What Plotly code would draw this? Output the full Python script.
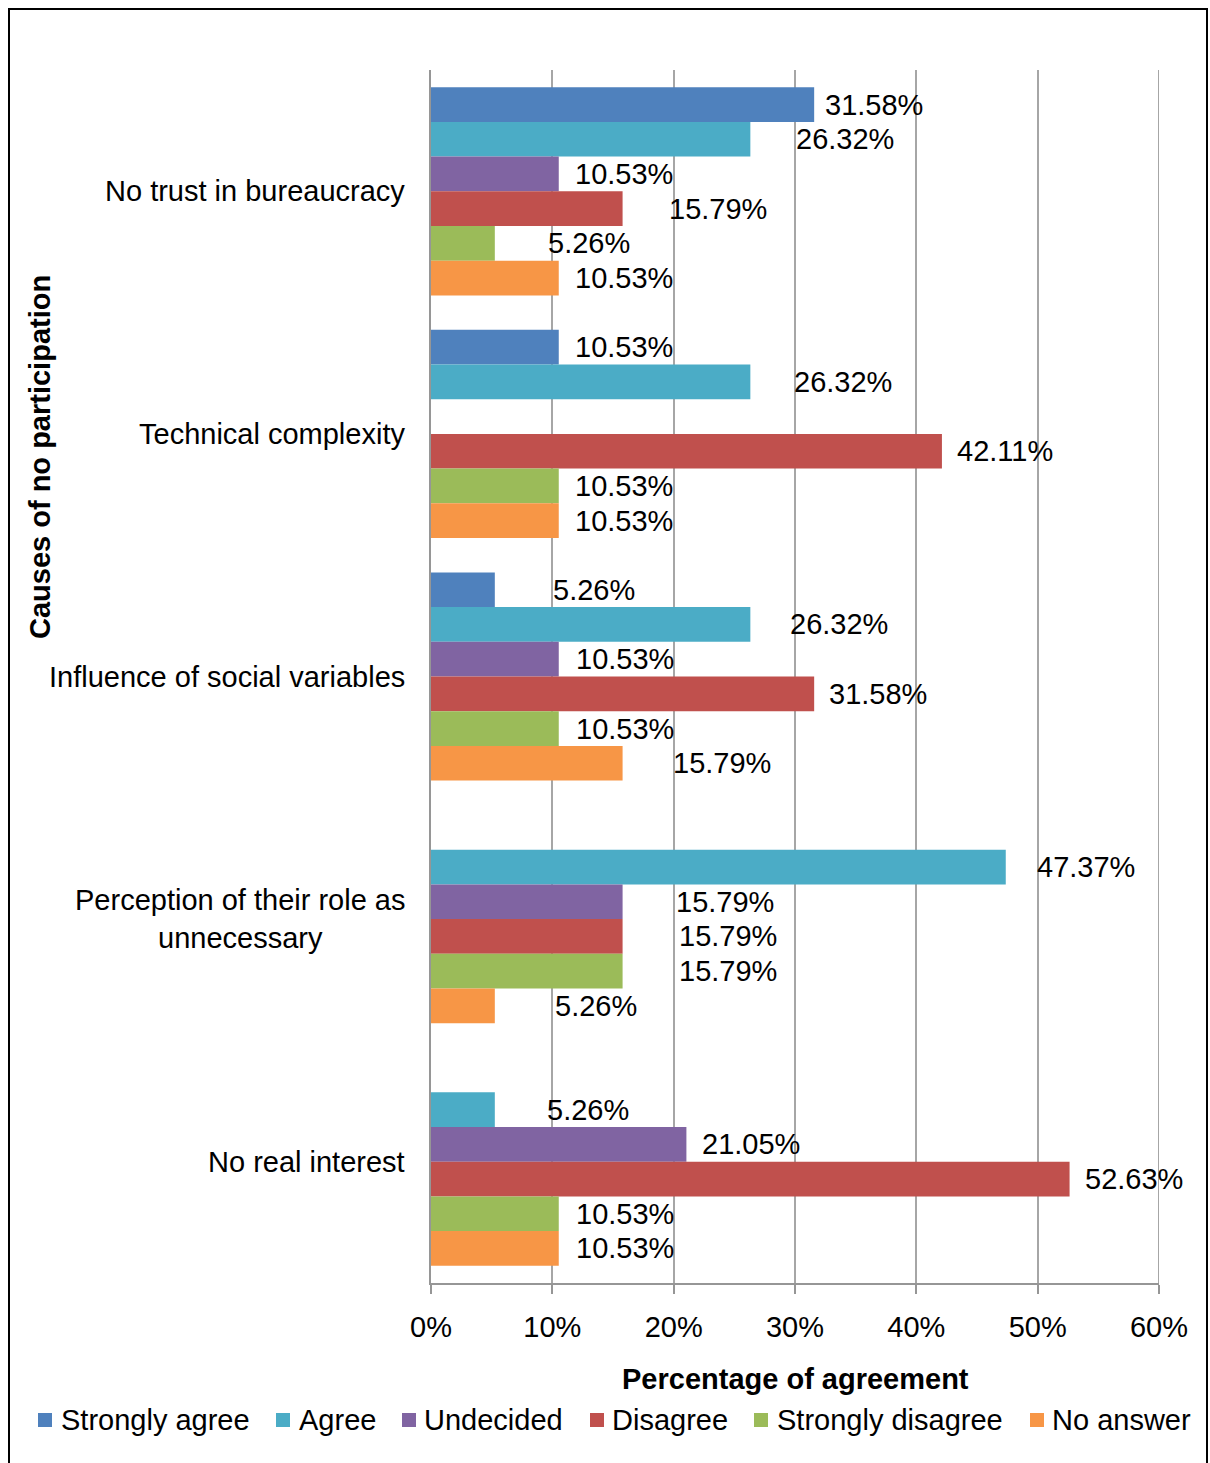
import plotly.graph_objects as go

# Causes of no participation (top to bottom)
causes = [
    "No trust in bureaucracy",
    "Technical complexity",
    "Influence of social variables",
    "Perception of their role as<br>unnecessary",
    "No real interest",
]

series_names = ["Strongly agree", "Agree", "Undecided", "Disagree",
                "Strongly disagree", "No answer"]

# Percentage of agreement per cause (None = no responses)
strongly_agree = [31.58, 10.53, 5.26, None, None]
agree = [26.32, 26.32, 26.32, 47.37, 5.26]
undecided = [10.53, None, 10.53, 15.79, 21.05]
disagree = [15.79, 42.11, 31.58, 15.79, 52.63]
strongly_disagree = [5.26, 10.53, 10.53, 15.79, 10.53]
no_answer = [10.53, 10.53, 15.79, 5.26, 10.53]

series_values = [strongly_agree, agree, undecided, disagree,
                 strongly_disagree, no_answer]

tick_values = [0, 10, 20, 30, 40, 50, 60]
tick_labels = ["0%", "10%", "20%", "30%", "40%", "50%", "60%"]

colors = ["#4F81BD", "#4BACC6", "#8064A2", "#C0504D", "#9BBB59", "#F79646"]

# horizontal pixel gap between each bar end and its value label
label_gap = [
    [11, 16, 58, None, None],
    [46, 44, 40, 31, 52],
    [16, None, 17, 53, 16],
    [46, 15, 15, 56, 15],
    [53, 16, 17, 56, 17],
    [16, 16, 50, 60, 17],
]

# legend layout: left pixel of each key square, and of each label
legend_key_px = [38, 276, 402, 590, 754, 1030]
legend_text_px = [60, 298, 423, 611, 776, 1051]
legend_mid_px = 1420
key_size = 14

FONT = "Liberation Sans, Arial, sans-serif"
FS = 29

n_series = len(series_names)
group_fill = 0.858
bar_w = group_fill / n_series

W, H = 1210, 1463
L, R, T, B = 431, 51, 70, 180
pw, ph = W - L - R, H - T - B


def px_to_paper_x(px):
    return (px - L) / pw


def px_to_paper_y(py):
    return 1 - (py - T) / ph


fig = go.Figure()
annotations = []
shapes = []

for i, (name, vals, col) in enumerate(zip(series_names, series_values, colors)):
    offset = (i - (n_series - 1) / 2) * bar_w
    ys = [c + offset for c in range(len(causes))]
    fig.add_trace(go.Bar(
        name=name, orientation="h", x=vals, y=ys, width=bar_w,
        marker=dict(color=col, line=dict(width=0)), showlegend=False,
    ))
    for v, y, g in zip(vals, ys, label_gap[i]):
        if v is None:
            continue
        annotations.append(dict(
            x=v, y=y, xref="x", yref="y", text=f"{v:.2f}%",
            showarrow=False, xanchor="left", yanchor="middle",
            xshift=g - 2, font=dict(family=FONT, size=FS, color="#000000"),
        ))

    # legend entry
    kx = legend_key_px[i]
    shapes.append(dict(
        type="rect", xref="paper", yref="paper",
        x0=px_to_paper_x(kx), x1=px_to_paper_x(kx + key_size),
        y0=px_to_paper_y(legend_mid_px + key_size / 2),
        y1=px_to_paper_y(legend_mid_px - key_size / 2),
        line=dict(width=0), fillcolor=col,
    ))
    annotations.append(dict(
        x=px_to_paper_x(legend_text_px[i]), y=px_to_paper_y(legend_mid_px),
        xref="paper", yref="paper", text=name, showarrow=False,
        xanchor="left", yanchor="middle", xshift=-1,
        font=dict(family=FONT, size=FS, color="#000000"),
    ))

# category labels, centred multi-line text right-aligned against the axis
for c, name in enumerate(causes):
    annotations.append(dict(
        x=0, y=c, xref="paper", yref="y", text=name, showarrow=False,
        xanchor="right", yanchor="middle", align="center", xshift=-24,
        font=dict(family=FONT, size=FS, color="#000000"),
    ))

# axis titles
annotations.append(dict(
    x=px_to_paper_x(40), y=px_to_paper_y(457), xref="paper", yref="paper",
    text="<b>Causes of no participation</b>", textangle=-90, showarrow=False,
    xanchor="center", yanchor="middle",
    font=dict(family=FONT, size=FS, color="#000000"),
))
annotations.append(dict(
    x=0.5, y=px_to_paper_y(1379), xref="paper", yref="paper",
    text="<b>Percentage of agreement</b>", showarrow=False,
    xanchor="center", yanchor="middle",
    font=dict(family=FONT, size=FS, color="#000000"),
))

# gridline at the right end of the value axis
shapes.append(dict(
    type="line", xref="x", yref="paper", x0=60, x1=60, y0=0, y1=1,
    line=dict(color="#A6A6A6", width=2), layer="below",
))

# outer chart frame
shapes.append(dict(
    type="rect", xref="paper", yref="paper",
    x0=px_to_paper_x(9), x1=px_to_paper_x(1207),
    y0=px_to_paper_y(1470), y1=px_to_paper_y(9),
    line=dict(color="#000000", width=2), fillcolor="rgba(0,0,0,0)",
    layer="below",
))

fig.update_layout(
    width=W, height=H,
    margin=dict(l=L, r=R, t=T, b=B, pad=0),
    paper_bgcolor="white", plot_bgcolor="white",
    barmode="overlay",
    font=dict(family=FONT, size=FS, color="#000000"),
    annotations=annotations,
    shapes=shapes,
    showlegend=False,
    xaxis=dict(
        range=[0, 60], tickmode="array", tickvals=tick_values,
        ticktext=tick_labels, showgrid=True, gridcolor="#A6A6A6", gridwidth=2,
        zeroline=False, showline=True, linecolor="#969696", linewidth=2,
        ticks="outside", ticklen=9, tickwidth=2, tickcolor="#969696",
        tickfont=dict(family=FONT, size=FS, color="#000000"),
        ticklabelstandoff=8, fixedrange=True,
    ),
    yaxis=dict(
        range=[len(causes) - 0.5, -0.5], showticklabels=False,
        showgrid=False, zeroline=False, showline=True,
        linecolor="#969696", linewidth=2, ticks="", fixedrange=True,
    ),
)

fig.write_html("out.html")
